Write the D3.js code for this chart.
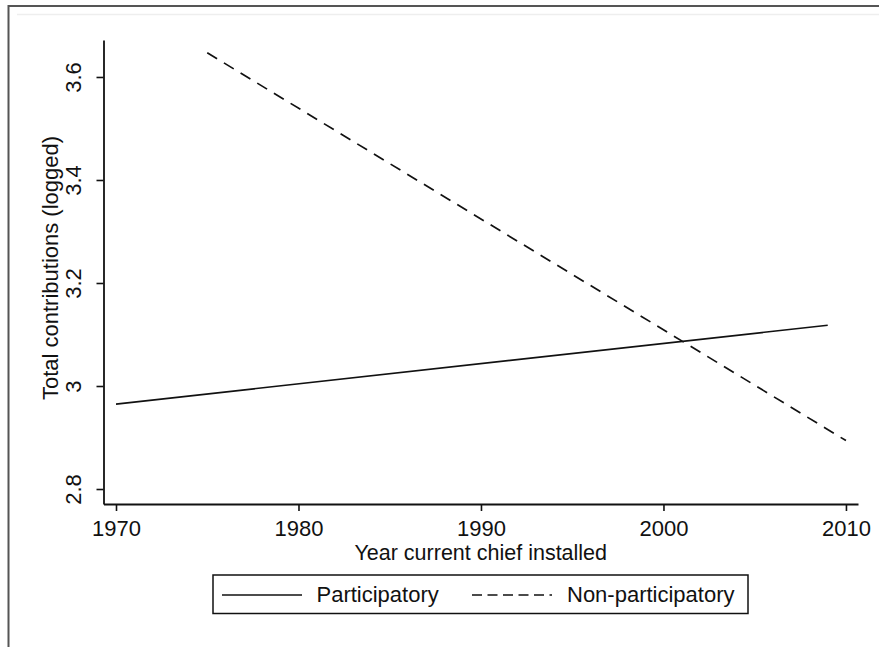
<!DOCTYPE html>
<html>
<head>
<meta charset="utf-8">
<script src="https://cdn.jsdelivr.net/npm/d3@7/dist/d3.min.js"></script>
<style>
  html, body { margin: 0; padding: 0; background: #fff; }
  svg { display: block; }
  text { font-family: "Liberation Sans", Arial, sans-serif; fill: #111; }
</style>
</head>
<body>
<svg id="chart" width="879" height="647"></svg>
<script>
// ---- data ----
const seriesNames = ["Participatory", "Non-participatory"];
const participatoryYears = [1970, 2009];
const participatoryValues = [2.965, 3.118];
const nonParticipatoryYears = [1975, 2010];
const nonParticipatoryValues = [3.647, 2.894];
const xTicks = [1970, 1980, 1990, 2000, 2010];
const yTicks = [2.8, 3.0, 3.2, 3.4, 3.6];
const yTickLabels = ["2.8", "3", "3.2", "3.4", "3.6"];
const xTitle = "Year current chief installed";
const yTitle = "Total contributions (logged)";
const xExtent = [1969.315, 2010.66];
const yExtent = [2.7709, 3.6718];

// ---- layout ----
const W = 879, H = 647;
const plot = { left: 103.5, right: 858, top: 40, bottom: 504 };
const FS = 22;
const FONT = '"Liberation Sans", Arial, sans-serif';

const svg = d3.select("#chart");

// outer frame
svg.append("line").attr("x1", 8.5).attr("x2", 8.5).attr("y1", 5).attr("y2", H)
  .attr("stroke", "#555").attr("stroke-width", 2);
svg.append("line").attr("x1", 8).attr("x2", W).attr("y1", 6).attr("y2", 6)
  .attr("stroke", "#555").attr("stroke-width", 2);
svg.append("line").attr("x1", 17).attr("x2", W).attr("y1", 14.5).attr("y2", 14.5)
  .attr("stroke", "#eee").attr("stroke-width", 1.5);

const x = d3.scaleLinear().domain(xExtent).range([plot.left, plot.right]);
const y = d3.scaleLinear().domain(yExtent).range([plot.bottom, plot.top]);

// x axis
const gx = svg.append("g").attr("transform", `translate(0,${plot.bottom})`)
  .call(d3.axisBottom(x).tickValues(xTicks).tickFormat(d3.format("d"))
    .tickSize(7).tickSizeOuter(0).tickPadding(9.5));
gx.select(".domain").attr("stroke", "#111").attr("stroke-width", 1.8);
gx.selectAll(".tick line").attr("stroke", "#111").attr("stroke-width", 1.6);
gx.selectAll(".tick text").style("font-size", FS + "px").attr("fill", "#111")
  .style("font-family", FONT);

// y axis
const gy = svg.append("g").attr("transform", `translate(${plot.left},0)`)
  .call(d3.axisLeft(y).tickValues(yTicks).tickFormat((d, i) => yTickLabels[i])
    .tickSize(7).tickSizeOuter(0));
gy.select(".domain").attr("stroke", "#111").attr("stroke-width", 1.8);
gy.selectAll(".tick line").attr("stroke", "#111").attr("stroke-width", 1.6);
gy.selectAll(".tick text")
  .attr("x", null).attr("dy", null)
  .attr("text-anchor", "middle")
  .attr("transform", "translate(-22.5,0) rotate(-90)")
  .style("font-size", FS + "px").attr("fill", "#111")
  .style("font-family", FONT);

// axis titles
svg.append("text").attr("x", (plot.left + plot.right) / 2).attr("y", 560)
  .attr("text-anchor", "middle").style("font-size", "21.5px").text(xTitle);
svg.append("text").attr("transform", "translate(58,268) rotate(-90)")
  .attr("text-anchor", "middle").style("font-size", FS + "px").text(yTitle);

// lines
const line = d3.line().x(d => x(d[0])).y(d => y(d[1]));
svg.append("path")
  .datum(d3.zip(participatoryYears, participatoryValues))
  .attr("d", line).attr("fill", "none").attr("stroke", "#111").attr("stroke-width", 1.7);
svg.append("path")
  .datum(d3.zip(nonParticipatoryYears, nonParticipatoryValues))
  .attr("d", line).attr("fill", "none").attr("stroke", "#111").attr("stroke-width", 1.7)
  .attr("stroke-dasharray", "11.5,8");

// legend
const lg = svg.append("g");
lg.append("rect").attr("x", 213).attr("y", 575).attr("width", 535).attr("height", 38.5)
  .attr("fill", "#fff").attr("stroke", "#111").attr("stroke-width", 1.5);
lg.append("line").attr("x1", 222).attr("x2", 302).attr("y1", 595).attr("y2", 595)
  .attr("stroke", "#111").attr("stroke-width", 1.7);
lg.append("text").attr("x", 316.5).attr("y", 602).style("font-size", FS + "px").text(seriesNames[0]);
lg.append("line").attr("x1", 472).attr("x2", 552).attr("y1", 595).attr("y2", 595)
  .attr("stroke", "#111").attr("stroke-width", 1.7).attr("stroke-dasharray", "10,5.5");
lg.append("text").attr("x", 567).attr("y", 602).style("font-size", FS + "px").text(seriesNames[1]);
</script>
</body>
</html>
